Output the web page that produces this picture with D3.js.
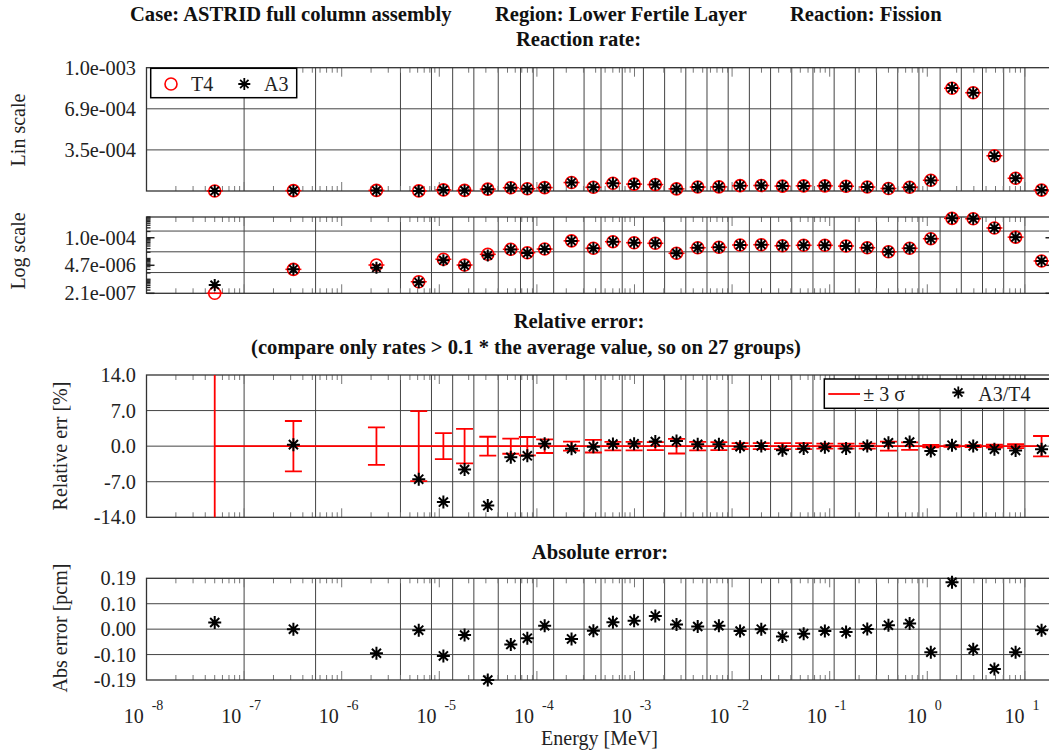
<!DOCTYPE html>
<html>
<head>
<meta charset="utf-8">
<script src="https://cdn.jsdelivr.net/npm/d3@7"></script>
<style>
body { margin: 0; background: #fff; }
text { font-family: "Liberation Serif", "Times New Roman", serif; fill: #222; }
</style>
</head>
<body>
<svg id="chart"></svg>
<script>
// ECCO 33 group boundaries [MeV], ascending
const groupBounds = [1e-11, 1e-7, 5.4e-7, 4.0e-6, 8.315e-6, 1.371e-5, 2.26e-5, 4.017e-5, 6.79e-5, 9.166e-5,
  1.486e-4, 3.043e-4, 4.54e-4, 7.485e-4, 1.234e-3, 2.035e-3, 3.355e-3, 5.531e-3, 9.119e-3, 1.503e-2,
  2.479e-2, 4.087e-2, 6.738e-2, 0.1111, 0.1832, 0.302, 0.4979, 0.8209, 1.353, 2.231, 3.679, 6.065, 10.0, 19.64]

// reaction rates, low energy group first
const t4Rate = [2.1e-7, 3.0e-6, 4.85e-6, 7.6e-7, 9.2e-6, 4.85e-6, 1.59e-5, 2.78e-5, 1.9e-5, 2.86e-5,
  7.1e-5, 3.1e-5, 6.45e-5, 5.77e-5, 5.4e-5, 1.78e-5, 3.31e-5, 3.46e-5, 4.47e-5, 4.62e-5,
  4.13e-5, 4.32e-5, 4.32e-5, 4.0e-5, 3.31e-5, 2.12e-5, 3.1e-5, 9.0e-5, 8.62e-4, 8.25e-4,
  2.96e-4, 1.07e-4, 7.6e-6]
const a3Rate = [5.3e-7, 3.0e-6, 3.6e-6, 7.1e-7, 8.2e-6, 4.63e-6, 1.40e-5, 2.72e-5, 1.86e-5, 2.87e-5,
  7.06e-5, 3.1e-5, 6.47e-5, 5.8e-5, 5.45e-5, 1.80e-5, 3.32e-5, 3.47e-5, 4.46e-5, 4.62e-5,
  4.10e-5, 4.30e-5, 4.31e-5, 3.98e-5, 3.31e-5, 2.13e-5, 3.12e-5, 8.91e-5, 8.64e-4, 8.25e-4,
  2.94e-4, 1.06e-4, 7.55e-6]

// relative error A3/T4 [%] and 3 sigma band
const relErr = [152, 0.3, -26, -6.5, -11.0, -4.6, -11.7, -2.2, -1.9, 0.45,
  -0.5, -0.1, 0.4, 0.45, 0.9, 1.0, 0.35, 0.35, -0.1, 0.05,
  -0.8, -0.45, -0.2, -0.45, 0.05, 0.65, 0.8, -0.95, 0.2, 0.05,
  -0.6, -0.85, -0.6]
const relSigma3 = [60, 4.95, 3.7, 6.9, 2.55, 3.4, 1.85, 1.5, 1.8, 1.35,
  0.9, 1.25, 0.85, 0.85, 0.8, 1.45, 0.85, 0.8, 0.6, 0.6,
  0.6, 0.6, 0.5, 0.5, 0.5, 0.9, 0.75, 0.25, 0.15, 0.2,
  0.3, 0.4, 2.0]

// absolute error [pcm]
const absErr = [0.025, 0.0, -0.091, -0.004, -0.101, -0.022, -0.192, -0.058, -0.034, 0.013,
  -0.037, -0.006, 0.026, 0.032, 0.05, 0.018, 0.01, 0.013, -0.007, 0.0,
  -0.028, -0.017, -0.007, -0.011, 0.001, 0.015, 0.021, -0.087, 0.177, -0.076,
  -0.150, -0.087, -0.004]

const linTicks = [3.45e-4, 6.9e-4, 1.035e-3]
const linTickLabels = ["3.5e-004", "6.9e-004", "1.0e-003"]
const logTicks = [2.1e-7, 4.7e-6, 1.0e-4]
const logTickLabels = ["2.1e-007", "4.7e-006", "1.0e-004"]
const logGrid = [2.1e-6, 2.1e-5, 2.1e-4]
const relTicks = [-14, -7, 0, 7, 14]
const absTicks = [-0.192, -0.096, 0, 0.096, 0.192]
const absTickLabels = ["-0.19", "-0.10", "0.00", "0.10", "0.19"]
const xDecades = [-8, -7, -6, -5, -4, -3, -2, -1, 0, 1]

let width = 1049, height = 751
let L = 146.5, R = 1053.5
let svg = d3.select('#chart').attr("width", width).attr("height", height)

let x = d3.scaleLog().domain([1e-8, 19.64]).range([L, R])
let yLin = d3.scaleLinear().domain([0, 1.035e-3]).range([191, 67.7])
let yLog = d3.scaleLog().domain([2.1e-7, 1e-3]).range([293.3, 217])
let yRel = d3.scaleLinear().domain([-14, 14]).range([517.3, 375])
let yAbs = d3.scaleLinear().domain([-0.192, 0.192]).range([680, 578.3])

let mids = d3.range(groupBounds.length - 1).map(i => (groupBounds[i] + groupBounds[i + 1]) / 2)
let idx = d3.range(mids.length)

let xMinor = []
xDecades.forEach(k => d3.range(1, 10).forEach(m => {
    let v = m * Math.pow(10, k)
    if (v >= 1e-8 && v <= 19.64) xMinor.push({v: v, major: m == 1})
}))

let starPath = (cx, cy, r) => {
    let d = r * 0.7
    return `M${cx - r},${cy}H${cx + r}M${cx},${cy - r}V${cy + r}` +
        `M${cx - d},${cy - d}L${cx + d},${cy + d}M${cx - d},${cy + d}L${cx + d},${cy - d}`
}

function frame(y, grid) {
    let [b, t] = y.range()
    let g = svg.append("g")
    g.selectAll(".vb").data(groupBounds.filter(e => e > 1e-8 && e < 19.64)).join("line")
        .attr("class", "vb")
        .attr("x1", d => x(d)).attr("x2", d => x(d)).attr("y1", t).attr("y2", b)
        .style("stroke", "#444").style("stroke-width", 1)
    g.selectAll(".hg").data(grid).join("line")
        .attr("class", "hg")
        .attr("x1", L).attr("x2", R).attr("y1", d => y(d)).attr("y2", d => y(d))
        .style("stroke", "#444").style("stroke-width", 1)
    g.selectAll(".tt").data(xMinor).join("line")
        .attr("class", "tt")
        .attr("x1", d => x(d.v)).attr("x2", d => x(d.v))
        .attr("y1", t).attr("y2", d => t + (d.major ? 9 : 5))
        .style("stroke", "#777").style("stroke-width", 1)
    g.selectAll(".tb").data(xMinor).join("line")
        .attr("class", "tb")
        .attr("x1", d => x(d.v)).attr("x2", d => x(d.v))
        .attr("y1", b).attr("y2", d => b - (d.major ? 9 : 5))
        .style("stroke", "#777").style("stroke-width", 1)
    g.append("rect").attr("x", L).attr("y", t).attr("width", R - L).attr("height", b - t)
        .style("fill", "none").style("stroke", "#333").style("stroke-width", 1.3)
    return g
}

function yLabels(y, vals, labels) {
    let ax = svg.append("g").attr("transform", `translate(${L},0)`)
        .call(d3.axisLeft(y).tickValues(vals).tickFormat((d, i) => labels[i]).tickSize(0).tickPadding(10.5))
    ax.select(".domain").remove()
    ax.selectAll("text").style("font-size", "20.3px").style("font-family", '"Liberation Serif", serif').style("fill", "#222")
}

function yTitle(txt, cx, cy) {
    svg.append("text").attr("transform", `translate(${cx},${cy}) rotate(-90)`)
        .attr("text-anchor", "middle").style("font-size", "20px").text(txt)
}

function title(txt, xx, yy, anchor) {
    svg.append("text").attr("x", xx).attr("y", yy).attr("text-anchor", anchor || "middle")
        .style("font-size", "20.6px").style("font-weight", "bold").style("fill", "#111").text(txt)
}

// titles
title("Case: ASTRID full column assembly", 130, 21, "start")
title("Region: Lower Fertile Layer", 495, 21, "start")
title("Reaction: Fission", 790, 21, "start")
title("Reaction rate:", 578.5, 46)
title("Relative error:", 579, 328)
title("(compare only rates > 0.1 * the average value, so on 27 groups)", 526, 354)
title("Absolute error:", 600, 559)

// ---- Lin scale panel
frame(yLin, [linTicks[0], linTicks[1]])
yLabels(yLin, linTicks, linTickLabels)
yTitle("Lin scale", 25, 130)

function ratePoints(y) {
    let g = svg.append("g")
    g.selectAll(".cap").data(idx).join("line")
        .attr("x1", i => x(mids[i]) - 8).attr("x2", i => x(mids[i]) + 8)
        .attr("y1", i => y(t4Rate[i])).attr("y2", i => y(t4Rate[i]))
        .style("stroke", "red").style("stroke-width", 1.5)
    g.selectAll(".t4").data(idx).join("circle")
        .attr("cx", i => x(mids[i])).attr("cy", i => y(t4Rate[i])).attr("r", 6)
        .style("fill", "none").style("stroke", "red").style("stroke-width", 1.6)
    g.selectAll(".a3").data(idx).join("path")
        .attr("d", i => starPath(x(mids[i]), y(a3Rate[i]), 6))
        .style("stroke", "black").style("stroke-width", 2).style("fill", "none")
}
ratePoints(yLin)

// legend
let lg = svg.append("g")
lg.append("rect").attr("x", 150.7).attr("y", 68.3).attr("width", 146).attr("height", 29.4)
    .style("fill", "white").style("stroke", "black").style("stroke-width", 1.5)
lg.append("circle").attr("cx", 171).attr("cy", 84).attr("r", 6)
    .style("fill", "none").style("stroke", "red").style("stroke-width", 1.6)
lg.append("text").attr("x", 191).attr("y", 91).style("font-size", "20px").text("T4")
lg.append("path").attr("d", starPath(244.3, 84, 6)).style("stroke", "black").style("stroke-width", 1.8)
lg.append("text").attr("x", 264).attr("y", 91).style("font-size", "20px").text("A3")

// ---- Log scale panel
let logFrame = frame(yLog, logGrid)
let yMinor = []
d3.range(-7, -2).forEach(k => d3.range(1, 10).forEach(m => {
    let v = m * Math.pow(10, k)
    if (v >= 2.1e-7 && v <= 1e-3) yMinor.push(v)
}))
;[L, R].forEach(side => {
    let dir = side == L ? 1 : -1
    logFrame.selectAll(".ym" + dir).data(yMinor).join("line")
        .attr("x1", side).attr("x2", side + dir * 4).attr("y1", d => yLog(d)).attr("y2", d => yLog(d))
        .style("stroke", "#222").style("stroke-width", 1.3)
    logFrame.selectAll(".yM" + dir).data(logTicks).join("line")
        .attr("x1", side).attr("x2", side + dir * 8).attr("y1", d => yLog(d)).attr("y2", d => yLog(d))
        .style("stroke", "#222").style("stroke-width", 1.5)
})
yLabels(yLog, logTicks, logTickLabels)
yTitle("Log scale", 25, 251)
ratePoints(yLog)

// ---- Relative error panel
frame(yRel, [-7, 0, 7])
yLabels(yRel, relTicks, relTicks.map(d => d.toFixed(1)))
yTitle("Relative err [%]", 67, 446)

svg.append("clipPath").attr("id", "relclip").append("rect")
    .attr("x", L).attr("y", 375).attr("width", R - L).attr("height", 517.3 - 375)
let rg = svg.append("g").attr("clip-path", "url(#relclip)")
rg.append("line").attr("x1", x(mids[0])).attr("x2", x(mids[mids.length - 1]))
    .attr("y1", yRel(0)).attr("y2", yRel(0)).style("stroke", "red").style("stroke-width", 1.8)
rg.selectAll(".eb").data(idx).join("path")
    .attr("d", i => {
        let cx = x(mids[i]), y1 = yRel(relSigma3[i]), y2 = yRel(-relSigma3[i])
        return `M${cx},${y1}V${y2}M${cx - 8.5},${y1}H${cx + 8.5}M${cx - 8.5},${y2}H${cx + 8.5}`
    })
    .style("stroke", "red").style("stroke-width", 1.8).style("fill", "none")
rg.selectAll(".rs").data(idx).join("path")
    .attr("d", i => starPath(x(mids[i]), yRel(relErr[i]), 6.5))
    .style("stroke", "black").style("stroke-width", 2).style("fill", "none")

let lg2 = svg.append("g")
lg2.append("rect").attr("x", 824.3).attr("y", 379).attr("width", 240).attr("height", 29.3)
    .style("fill", "white").style("stroke", "black").style("stroke-width", 1.5)
lg2.append("line").attr("x1", 828.3).attr("x2", 860).attr("y1", 394).attr("y2", 394)
    .style("stroke", "red").style("stroke-width", 1.8)
lg2.append("text").attr("x", 863.3).attr("y", 401).style("font-size", "20px").text("± 3 σ")
lg2.append("path").attr("d", starPath(958.3, 392.5, 6)).style("stroke", "black").style("stroke-width", 1.8)
lg2.append("text").attr("x", 978.3).attr("y", 401).style("font-size", "20px").text("A3/T4")

// ---- Absolute error panel
frame(yAbs, [-0.096, 0, 0.096])
yLabels(yAbs, absTicks, absTickLabels)
yTitle("Abs error [pcm]", 67, 628)
svg.append("g").selectAll(".as").data(idx).join("path")
    .attr("d", i => starPath(x(mids[i]), yAbs(absErr[i]), 6.5))
    .style("stroke", "black").style("stroke-width", 2).style("fill", "none")

// x tick labels
let xl = svg.append("g").selectAll("text").data(xDecades).join("text")
    .attr("x", k => x(Math.pow(10, k)) - 3).attr("y", 723)
    .attr("text-anchor", "middle").style("font-size", "20px")
xl.append("tspan").text("10")
xl.append("tspan").attr("dx", 8).attr("dy", -13).style("font-size", "14px").text(k => k)

svg.append("text").attr("x", 599.5).attr("y", 745).attr("text-anchor", "middle")
    .style("font-size", "20px").text("Energy [MeV]")
</script>
</body>
</html>
